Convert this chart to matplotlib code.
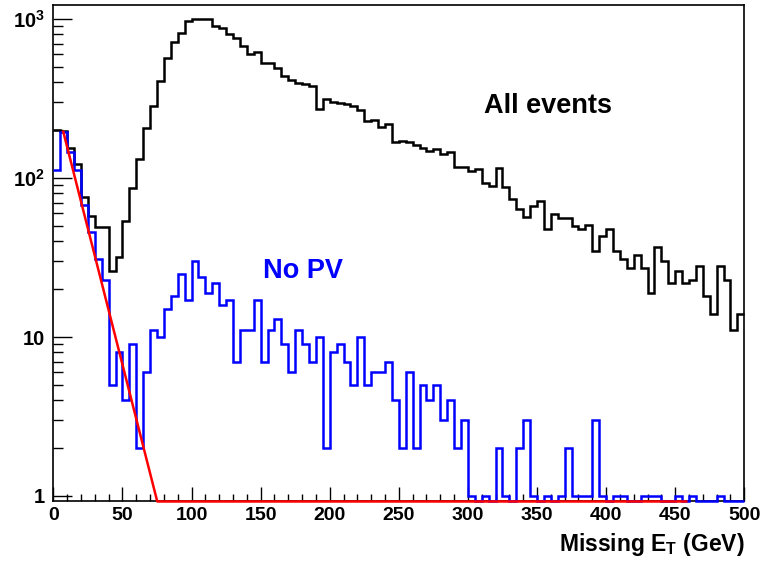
import matplotlib
matplotlib.use("Agg")
import matplotlib.pyplot as plt
import numpy as np

# Missing ET histograms, 100 bins of 5 GeV from 0 to 500
bin_edges = np.linspace(0, 500, 101)

all_events = [200, 198, 155, 122, 76, 58, 49, 49, 26, 32,
              54, 87, 132, 206, 284, 407, 571, 713, 813, 977,
              996, 996, 1005, 907, 874, 800, 756, 680, 602, 617,
              531, 531, 490, 440, 415, 398, 390, 379, 271, 314,
              300, 298, 291, 283, 268, 229, 232, 208, 219, 168,
              172, 168, 162, 155, 148, 152, 141, 146, 118, 118,
              111, 114, 93, 89, 115, 88, 74, 64, 57, 67,
              72, 48, 59, 56, 56, 50, 48, 51, 35, 43,
              48, 35, 31, 27, 33, 27, 19, 37, 30, 22,
              26, 22, 23, 28, 18, 14, 28, 23, 11, 14]

no_pv = [113, 194, 146, 112, 68, 46, 31, 23, 5, 8,
         4, 9, 2, 6, 11, 10, 15, 18, 25, 17,
         30, 24, 19, 22, 16, 17, 7, 11, 11, 17,
         7, 11, 13, 9, 6, 11, 9, 7, 10, 2,
         8, 9, 7, 5, 10, 5, 6, 6, 7, 4,
         2, 6, 2, 5, 4, 5, 3, 4, 2, 3,
         1, 0, 1, 0, 2, 1, 0, 2, 3, 1,
         0, 1, 0, 1, 2, 1, 1, 1, 3, 1,
         0, 1, 1, 0, 0, 1, 1, 1, 0, 0,
         1, 0, 1, 0, 0, 0, 1, 0, 0, 0]

# exponential fit to the No PV low-MET part: norm * exp(-slope * x)
fit_norm = 345.0
fit_slope = 0.07875
fit_range = (7.2, 458.0)

ymin, ymax = 0.923, 1225

plt.rcParams["font.family"] = ["Liberation Sans", "DejaVu Sans"]
plt.rcParams["font.weight"] = "bold"
plt.rcParams["mathtext.fontset"] = "custom"
plt.rcParams["mathtext.rm"] = "Liberation Sans:bold"
plt.rcParams["mathtext.bf"] = "Liberation Sans:bold"
plt.rcParams["mathtext.it"] = "Liberation Sans:bold"

fig = plt.figure(figsize=(7.65, 5.65), dpi=100)
ax = fig.add_axes([0.0697, 0.1124, 0.9032, 0.8786])

# empty bins sit on the bottom of the frame (like ROOT on a log axis)
black = np.where(np.array(all_events) > 0, all_events, ymin)
blue = np.where(np.array(no_pv) > 0, no_pv, ymin)

ax.stairs(black, bin_edges, baseline=None, color="black", linewidth=1.8, clip_on=False, zorder=2)
ax.stairs(blue, bin_edges, baseline=None, color="blue", linewidth=1.8, clip_on=False, zorder=3)

xf = np.linspace(fit_range[0], fit_range[1], 2000)
yf = np.maximum(fit_norm * np.exp(-fit_slope * xf), ymin)
ax.plot(xf, yf, color="red", linewidth=1.8, clip_on=False, zorder=4)

ax.set_yscale("log")
ax.set_xlim(0, 500)
ax.set_ylim(ymin, ymax)

ax.set_xticks(np.arange(0, 501, 50))
ax.set_xticks(np.arange(0, 501, 10), minor=True)
ax.set_yticks([1, 10, 100, 1000])
ax.set_yticklabels(["1", "10", r"$\mathbf{10^{2}}$", r"$\mathbf{10^{3}}$"])
minor_y = [m * 10**d for d in range(0, 3) for m in range(2, 10)]
ax.set_yticks(minor_y, minor=True)
ax.yaxis.set_minor_formatter(matplotlib.ticker.NullFormatter())

ax.tick_params(axis="x", which="major", direction="in", length=10, width=1, labelsize=14, pad=4)
ax.tick_params(axis="x", which="minor", direction="in", length=5, width=1)
ax.tick_params(axis="y", which="major", direction="in", length=14, width=1, labelsize=14.5, pad=6)
ax.tick_params(axis="y", which="minor", direction="in", length=7, width=1)
for s in ax.spines.values():
    s.set_linewidth(1.2)

ax.set_xlabel(r"Missing E$_{\mathbf{T}}$ (GeV)", fontsize=16.5, fontweight="bold", loc="right", labelpad=5)

ax.text(312, 285, "All events", fontsize=19.5, fontweight="bold", color="black", va="center", ha="left")
ax.text(151.5, 26, "No PV", fontsize=19.5, fontweight="bold", color="blue", va="center", ha="left")

plt.savefig("out.png", dpi=100)
